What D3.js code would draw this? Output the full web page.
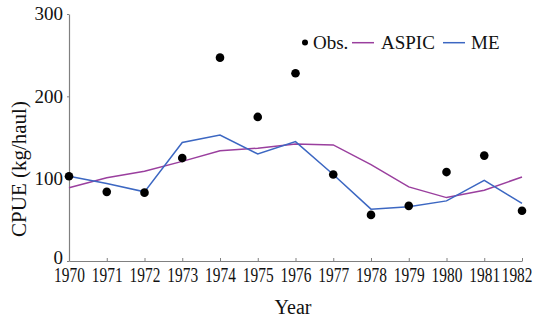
<!DOCTYPE html>
<html><head><meta charset="utf-8">
<script src="https://cdn.jsdelivr.net/npm/d3@7"></script>
<style>body{margin:0;background:#fff}svg{display:block}text{font-family:"Liberation Serif","Times New Roman",serif;fill:#111}</style>
</head><body>
<svg id="c" width="534" height="321"></svg>
<script>
const years = [1970,1971,1972,1973,1974,1975,1976,1977,1978,1979,1980,1981,1982];
const obs   = [103,84,83,125,247,175,228,105,56,67,108,128,61];
const aspic = [89,101,109,121,134,137,142,141,117,90,77,86,102];
const me    = [103,94,84,144,153,130,145,105,63,66,73,98,70];
const yTicks = [0,100,200,300];
const seriesNames = ["Obs.","ASPIC","ME"];

const svg = d3.select("#c");
const x = d3.scaleLinear().domain([1970,1982]).range([69,522]);
const y = d3.scaleLinear().domain([0,300]).range([261,14]);
const axisColor = "#808080";

// x axis
const xa = svg.append("g").attr("transform","translate(0,261)")
  .call(d3.axisBottom(x).tickValues(years).tickFormat(d3.format("d")).tickSize(-3).tickSizeOuter(0));
xa.select(".domain").attr("stroke",axisColor).attr("stroke-width",1.2);
xa.selectAll(".tick line").attr("stroke",axisColor);
const sx = 0.77;
xa.selectAll(".tick text").attr("font-size",20).attr("y",21).attr("dy",0).attr("x",0)
  .attr("text-anchor","middle")
  .attr("fill","#111")
  .attr("transform", d => {
    const cx = x(d), half = 20*sx;
    const shift = (cx + half > 532) ? (532 - half - cx) : 0;
    return `translate(${shift},0) scale(${sx},1)`;
  });

// y axis
const ya = svg.append("g").attr("transform","translate(69,0)")
  .call(d3.axisLeft(y).tickValues(yTicks).tickFormat(d3.format("d")).tickSize(2).tickSizeOuter(0));
ya.select(".domain").attr("stroke",axisColor).attr("stroke-width",1.2);
ya.selectAll(".tick line").attr("stroke",axisColor);
ya.selectAll(".tick text").attr("font-size",19).attr("x",-6)
  .attr("dy", d => d === 0 ? "0.12em" : "0.3em").attr("fill","#111");

// titles
svg.append("text").attr("x",293).attr("y",314).attr("text-anchor","middle").attr("font-size",20).text("Year");
svg.append("text").attr("transform","translate(26,169) rotate(-90)").attr("text-anchor","middle").attr("font-size",21).text("CPUE (kg/haul)");

// lines
const line = d3.line().x((d,i)=>x(years[i])).y(d=>y(d));
svg.append("path").datum(aspic).attr("d",line).attr("fill","none").attr("stroke","#9a3f9e").attr("stroke-width",1.5);
svg.append("path").datum(me).attr("d",line).attr("fill","none").attr("stroke","#3c67c2").attr("stroke-width",1.5);

// points
svg.append("g").selectAll("circle").data(obs).join("circle")
  .attr("cx",(d,i)=>x(years[i])).attr("cy",d=>y(d)).attr("r",4.3).attr("fill","#000");

// legend
const lg = svg.append("g");
lg.append("circle").attr("cx",305).attr("cy",42.5).attr("r",3).attr("fill","#000");
lg.append("text").attr("x",313).attr("y",49.3).attr("font-size",19).text(seriesNames[0]);
lg.append("line").attr("x1",352).attr("x2",374).attr("y1",42.7).attr("y2",42.7).attr("stroke","#9a3f9e").attr("stroke-width",1.5);
lg.append("text").attr("x",381).attr("y",49.3).attr("font-size",19).text(seriesNames[1]);
lg.append("line").attr("x1",443).attr("x2",465).attr("y1",42.7).attr("y2",42.7).attr("stroke","#3c67c2").attr("stroke-width",1.5);
lg.append("text").attr("x",471).attr("y",49.3).attr("font-size",19).text(seriesNames[2]);
</script>
</body></html>
